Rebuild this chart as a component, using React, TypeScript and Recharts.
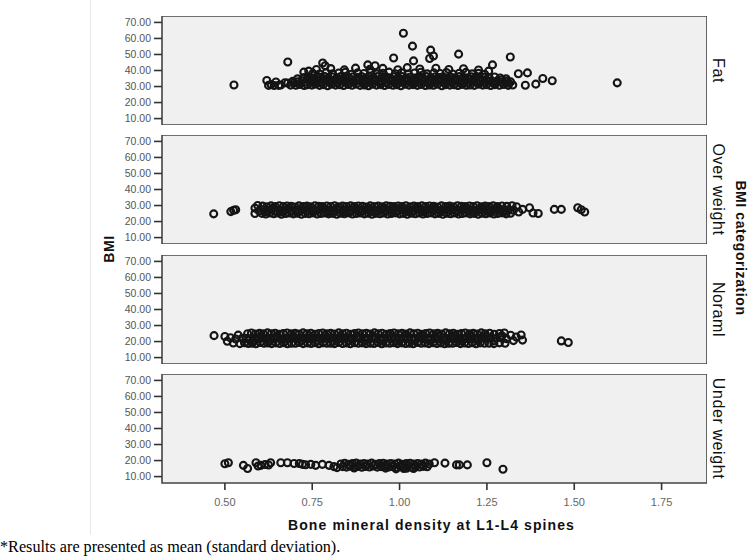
import { ScatterChart, Scatter, XAxis, YAxis, ReferenceArea } from "recharts";

type Pt = [number, number];

const xTicks = [0.5, 0.75, 1.0, 1.25, 1.5, 1.75];
const yTicks = [10, 20, 30, 40, 50, 60, 70];
const categories = ["Fat", "Over weight", "Noraml", "Under weight"];

// BMI >= 30
const fatPoints: Pt[] = [
  [0.526, 31], [0.62, 33.8], [0.625, 30.7], [0.632, 31.2], [0.641, 30.6], [0.646, 32.8], [0.654, 30.7],
  [0.66, 31.0], [0.672, 32.4], [0.68, 32.2], [0.688, 30.9], [0.694, 33.2], [0.697, 32.2], [0.708, 34.8],
  [0.726, 39.0], [0.74, 39.6], [0.68, 45.3], [0.78, 44.7], [0.787, 43.0], [0.909, 43.5], [0.93, 43.0],
  [0.983, 47.8], [1.011, 63.2], [1.037, 55.2], [1.04, 46.0], [1.086, 47.5], [1.089, 52.7], [1.097, 49.0],
  [1.169, 50.2], [1.266, 43.5], [1.317, 48.4], [1.34, 38.0], [1.366, 38.5], [1.36, 30.8], [1.39, 31.5],
  [1.41, 35.0], [1.437, 33.6], [1.623, 32.3],
  [0.703, 30.8], [0.714, 31.3], [0.727, 30.6], [0.736, 31.1], [0.749, 30.9], [0.758, 31.5], [0.771, 30.7],
  [0.782, 31.2], [0.794, 30.5], [0.805, 31.4], [0.817, 30.9], [0.829, 31.1], [0.84, 30.6], [0.853, 31.3],
  [0.864, 30.8], [0.876, 31.5], [0.887, 30.7], [0.899, 31.0], [0.911, 30.5], [0.922, 31.4], [0.934, 30.9],
  [0.946, 31.2], [0.957, 30.6], [0.969, 31.3], [0.981, 30.8], [0.992, 31.1], [1.004, 30.5], [1.016, 31.4],
  [1.027, 30.9], [1.039, 31.2], [1.051, 30.7], [1.062, 31.3], [1.074, 30.6], [1.086, 31.0], [1.097, 30.8],
  [1.109, 31.4], [1.121, 30.5], [1.132, 31.2], [1.144, 30.9], [1.156, 31.1], [1.167, 30.6], [1.179, 31.3],
  [1.191, 30.8], [1.202, 31.0], [1.214, 30.7], [1.226, 31.4], [1.238, 30.9], [1.249, 31.1], [1.261, 30.6],
  [1.273, 31.2], [1.286, 30.8], [1.298, 31.3], [1.311, 30.7], [1.324, 31.0],
  [0.708, 33.0], [0.72, 33.6], [0.731, 32.8], [0.743, 33.4], [0.754, 33.1], [0.766, 33.8], [0.777, 32.9],
  [0.789, 33.5], [0.8, 33.2], [0.812, 33.7], [0.823, 32.8], [0.835, 33.4], [0.847, 33.0], [0.858, 33.6],
  [0.87, 33.2], [0.881, 33.9], [0.893, 32.9], [0.905, 33.5], [0.916, 33.1], [0.928, 33.7], [0.94, 33.0],
  [0.951, 33.4], [0.963, 32.8], [0.975, 33.6], [0.986, 33.2], [0.998, 33.8], [1.01, 32.9], [1.021, 33.5],
  [1.033, 33.1], [1.045, 33.7], [1.056, 33.0], [1.068, 33.4], [1.08, 32.8], [1.091, 33.6], [1.103, 33.2],
  [1.115, 33.5], [1.126, 32.9], [1.138, 33.7], [1.15, 33.1], [1.161, 33.4], [1.173, 33.0], [1.185, 33.6],
  [1.196, 32.8], [1.208, 33.3], [1.22, 33.1], [1.232, 33.5], [1.243, 32.9], [1.255, 33.4], [1.268, 33.0],
  [1.28, 33.6], [1.293, 32.8], [1.306, 33.3], [1.318, 32.9],
  [0.727, 35.6], [0.739, 36.1], [0.751, 35.3], [0.763, 36.0], [0.774, 35.7], [0.786, 36.3], [0.797, 35.4],
  [0.809, 35.9], [0.821, 35.5], [0.832, 36.2], [0.844, 35.8], [0.856, 35.3], [0.867, 36.1], [0.879, 35.6],
  [0.891, 36.3], [0.902, 35.4], [0.914, 35.9], [0.926, 35.5], [0.937, 36.2], [0.949, 35.7], [0.961, 36.0],
  [0.972, 35.4], [0.984, 36.1], [0.996, 35.6], [1.007, 36.3], [1.019, 35.5], [1.031, 35.9], [1.042, 35.3],
  [1.054, 36.0], [1.066, 35.7], [1.077, 36.2], [1.089, 35.4], [1.101, 35.9], [1.112, 35.6], [1.124, 36.1],
  [1.136, 35.3], [1.147, 35.8], [1.159, 35.5], [1.171, 36.2], [1.182, 35.7], [1.194, 35.4], [1.206, 36.0],
  [1.218, 35.6], [1.23, 35.2], [1.243, 35.8], [1.257, 35.4], [1.272, 35.9], [1.288, 35.3], [1.305, 34.8],
  [0.752, 38.2], [0.771, 37.8], [0.79, 38.6], [0.808, 37.9], [0.826, 38.4], [0.845, 38.9], [0.863, 37.7],
  [0.88, 38.5], [0.898, 38.1], [0.917, 38.8], [0.935, 37.9], [0.953, 38.3], [0.97, 39.0], [0.988, 38.0],
  [1.006, 38.6], [1.025, 37.8], [1.043, 38.4], [1.061, 38.9], [1.079, 37.9], [1.098, 38.5], [1.116, 38.1],
  [1.134, 38.7], [1.152, 37.8], [1.171, 38.3], [1.19, 38.8], [1.208, 37.9], [1.226, 38.2], [1.244, 37.6],
  [0.762, 40.6], [0.803, 41.2], [0.842, 40.4], [0.874, 41.5], [0.915, 40.8], [0.952, 41.3], [0.995, 40.5],
  [1.022, 41.8], [1.058, 40.9], [1.104, 41.4], [1.141, 40.6], [1.183, 41.1], [1.226, 40.3], [1.255, 39.6],
  [0.718, 32.1], [0.741, 34.5], [0.764, 32.0], [0.787, 34.6], [0.81, 32.2], [0.833, 34.4], [0.856, 32.1],
  [0.879, 34.5], [0.902, 32.0], [0.925, 34.6], [0.948, 32.2], [0.971, 34.4], [0.994, 32.1], [1.017, 34.5],
  [1.04, 32.0], [1.063, 34.6], [1.086, 32.2], [1.109, 34.4], [1.132, 32.1], [1.155, 34.5], [1.178, 32.0],
  [1.201, 34.6], [1.224, 32.2], [1.247, 34.4], [1.27, 32.1], [1.293, 34.2], [1.312, 32.0],
];

// 25 <= BMI < 30
const overPoints: Pt[] = [
  [0.468, 24.8], [0.517, 26.2], [0.525, 27.0], [0.531, 27.4], [0.586, 28.4], [0.586, 25.0], [0.594, 30.0],
  [0.598, 26.6], [1.335, 29.2], [1.341, 26.0], [1.352, 27.6], [1.372, 28.6], [1.382, 25.3], [1.397, 25.0],
  [1.443, 27.6], [1.463, 27.6], [1.51, 28.6], [1.52, 27.4], [1.53, 26.0],
  [0.606, 25.1], [0.617, 24.7], [0.629, 25.3], [0.64, 24.9], [0.651, 25.4], [0.662, 24.6], [0.674, 25.0],
  [0.685, 25.3], [0.696, 24.8], [0.707, 25.2], [0.719, 24.6], [0.73, 25.1], [0.741, 24.9], [0.752, 25.4],
  [0.764, 24.7], [0.775, 25.0], [0.786, 25.3], [0.797, 24.8], [0.809, 25.1], [0.82, 24.6], [0.831, 25.2],
  [0.842, 24.9], [0.854, 25.4], [0.865, 24.7], [0.876, 25.0], [0.887, 25.3], [0.899, 24.8], [0.91, 25.2],
  [0.921, 24.6], [0.932, 25.1], [0.944, 24.9], [0.955, 25.3], [0.966, 24.7], [0.977, 25.0], [0.989, 25.4],
  [1.0, 24.8], [1.011, 25.1], [1.022, 24.6], [1.034, 25.2], [1.045, 24.9], [1.056, 25.3], [1.067, 24.7],
  [1.079, 25.0], [1.09, 25.4], [1.101, 24.8], [1.112, 25.1], [1.124, 24.6], [1.135, 25.2], [1.146, 24.9],
  [1.157, 25.3], [1.169, 24.7], [1.18, 25.0], [1.191, 25.4], [1.202, 24.8], [1.214, 25.1], [1.225, 24.6],
  [1.236, 25.2], [1.247, 24.9], [1.259, 25.3], [1.27, 24.7], [1.281, 25.0], [1.293, 25.4], [1.305, 24.8],
  [1.318, 25.2],
  [0.611, 27.4], [0.623, 26.9], [0.634, 27.5], [0.645, 27.0], [0.657, 27.3], [0.668, 26.8], [0.679, 27.6],
  [0.69, 27.1], [0.702, 27.4], [0.713, 26.9], [0.724, 27.3], [0.735, 27.0], [0.747, 27.5], [0.758, 26.8],
  [0.769, 27.2], [0.78, 27.6], [0.792, 27.0], [0.803, 27.4], [0.814, 26.9], [0.825, 27.3], [0.837, 27.1],
  [0.848, 27.5], [0.859, 26.8], [0.87, 27.2], [0.882, 27.6], [0.893, 27.0], [0.904, 27.4], [0.915, 26.9],
  [0.927, 27.3], [0.938, 27.1], [0.949, 27.5], [0.96, 26.8], [0.972, 27.2], [0.983, 27.6], [0.994, 27.0],
  [1.005, 27.4], [1.017, 26.9], [1.028, 27.3], [1.039, 27.1], [1.05, 27.5], [1.062, 26.8], [1.073, 27.2],
  [1.084, 27.6], [1.095, 27.0], [1.107, 27.4], [1.118, 26.9], [1.129, 27.3], [1.14, 27.1], [1.152, 27.5],
  [1.163, 26.8], [1.174, 27.2], [1.185, 27.6], [1.197, 27.0], [1.208, 27.4], [1.219, 26.9], [1.23, 27.3],
  [1.242, 27.1], [1.253, 27.5], [1.264, 26.8], [1.276, 27.2], [1.288, 27.6], [1.3, 27.0], [1.312, 27.4],
  [1.326, 27.1],
  [0.608, 29.6], [0.62, 29.2], [0.632, 29.8], [0.644, 29.4], [0.656, 29.9], [0.667, 29.3], [0.678, 29.7],
  [0.69, 29.5], [0.701, 29.1], [0.712, 29.8], [0.724, 29.4], [0.735, 29.6], [0.746, 29.2], [0.758, 29.9],
  [0.769, 29.5], [0.78, 29.3], [0.792, 29.7], [0.803, 29.4], [0.814, 29.9], [0.826, 29.2], [0.837, 29.6],
  [0.848, 29.4], [0.86, 29.8], [0.871, 29.3], [0.882, 29.7], [0.894, 29.5], [0.905, 29.1], [0.916, 29.8],
  [0.928, 29.4], [0.939, 29.6], [0.95, 29.2], [0.962, 29.9], [0.973, 29.5], [0.984, 29.3], [0.996, 29.7],
  [1.007, 29.4], [1.018, 29.9], [1.03, 29.2], [1.041, 29.6], [1.052, 29.4], [1.064, 29.8], [1.075, 29.3],
  [1.086, 29.7], [1.098, 29.5], [1.109, 29.1], [1.12, 29.8], [1.132, 29.4], [1.143, 29.6], [1.154, 29.2],
  [1.166, 29.9], [1.177, 29.5], [1.188, 29.3], [1.2, 29.7], [1.211, 29.4], [1.222, 29.9], [1.234, 29.2],
  [1.245, 29.6], [1.256, 29.4], [1.268, 29.8], [1.28, 29.3], [1.293, 29.7], [1.307, 29.5], [1.322, 29.9],
  [0.615, 26.1], [0.638, 28.4], [0.661, 26.0], [0.684, 28.3], [0.707, 26.2], [0.73, 28.5], [0.752, 26.1],
  [0.775, 28.3], [0.798, 26.0], [0.821, 28.4], [0.844, 26.2], [0.867, 28.5], [0.889, 26.1], [0.912, 28.3],
  [0.935, 26.0], [0.958, 28.4], [0.981, 26.2], [1.003, 28.5], [1.026, 26.1], [1.049, 28.3], [1.072, 26.0],
  [1.095, 28.4], [1.118, 26.2], [1.14, 28.5], [1.163, 26.1], [1.186, 28.3], [1.209, 26.0], [1.232, 28.4],
  [1.255, 26.2], [1.277, 28.5], [1.3, 26.1],
];

// 18.5 <= BMI < 25
const normalPoints: Pt[] = [
  [0.469, 23.7], [0.5, 23.2], [0.507, 20.2], [0.516, 22.4], [0.524, 19.1], [0.531, 21.6], [0.538, 24.0],
  [0.543, 18.7], [0.549, 22.0], [1.318, 23.9], [1.326, 20.6], [1.334, 22.8], [1.348, 24.1], [1.352, 20.9],
  [1.463, 20.4], [1.483, 19.4],
  [0.556, 19.3], [0.567, 18.8], [0.578, 19.0], [0.589, 18.6], [0.601, 19.4], [0.612, 18.9], [0.623, 19.1],
  [0.634, 18.7], [0.646, 19.2], [0.657, 18.8], [0.668, 19.3], [0.679, 18.6], [0.691, 19.0], [0.702, 18.9],
  [0.713, 19.4], [0.724, 18.7], [0.736, 19.1], [0.747, 18.8], [0.758, 19.3], [0.769, 18.6], [0.781, 19.2],
  [0.792, 18.9], [0.803, 19.0], [0.814, 18.7], [0.826, 19.4], [0.837, 18.8], [0.848, 19.1], [0.859, 18.6],
  [0.871, 19.3], [0.882, 18.9], [0.893, 19.2], [0.904, 18.7], [0.916, 19.0], [0.927, 18.8], [0.938, 19.4],
  [0.949, 18.6], [0.961, 19.1], [0.972, 18.9], [0.983, 19.3], [0.994, 18.7], [1.006, 19.2], [1.017, 18.8],
  [1.028, 19.0], [1.039, 18.6], [1.051, 19.4], [1.062, 18.9], [1.073, 19.1], [1.084, 18.7], [1.096, 19.3],
  [1.107, 18.8], [1.118, 19.2], [1.129, 18.6], [1.141, 19.0], [1.152, 18.9], [1.163, 19.4], [1.174, 18.7],
  [1.186, 19.1], [1.197, 18.8], [1.208, 19.3], [1.219, 18.6], [1.231, 19.2], [1.243, 18.9], [1.256, 19.0],
  [1.27, 18.7], [1.286, 19.2], [1.302, 18.9],
  [0.561, 22.0], [0.572, 21.6], [0.584, 22.2], [0.595, 21.8], [0.606, 22.3], [0.617, 21.7], [0.629, 22.1],
  [0.64, 21.9], [0.651, 22.4], [0.662, 21.6], [0.674, 22.0], [0.685, 21.8], [0.696, 22.3], [0.707, 21.7],
  [0.719, 22.2], [0.73, 21.9], [0.741, 22.0], [0.752, 21.6], [0.764, 22.4], [0.775, 21.8], [0.786, 22.1],
  [0.797, 21.7], [0.809, 22.3], [0.82, 21.9], [0.831, 22.0], [0.842, 21.6], [0.854, 22.2], [0.865, 21.8],
  [0.876, 22.4], [0.887, 21.7], [0.899, 22.1], [0.91, 21.9], [0.921, 22.3], [0.932, 21.6], [0.944, 22.0],
  [0.955, 21.8], [0.966, 22.2], [0.977, 21.7], [0.989, 22.4], [1.0, 21.9], [1.011, 22.1], [1.022, 21.6],
  [1.034, 22.0], [1.045, 21.8], [1.056, 22.3], [1.067, 21.7], [1.079, 22.2], [1.09, 21.9], [1.101, 22.0],
  [1.112, 21.6], [1.124, 22.4], [1.135, 21.8], [1.146, 22.1], [1.157, 21.7], [1.169, 22.3], [1.18, 21.9],
  [1.191, 22.0], [1.202, 21.6], [1.214, 22.2], [1.225, 21.8], [1.236, 22.4], [1.248, 21.7], [1.261, 22.1],
  [1.275, 21.9], [1.29, 22.3], [1.306, 21.8],
  [0.565, 24.9], [0.576, 25.3], [0.588, 24.7], [0.599, 25.1], [0.61, 24.8], [0.622, 25.4], [0.633, 24.9],
  [0.644, 25.2], [0.656, 24.6], [0.667, 25.0], [0.678, 25.3], [0.69, 24.8], [0.701, 25.1], [0.712, 24.7],
  [0.724, 25.4], [0.735, 24.9], [0.746, 25.2], [0.758, 24.6], [0.769, 25.0], [0.78, 25.3], [0.792, 24.8],
  [0.803, 25.1], [0.814, 24.7], [0.826, 25.4], [0.837, 24.9], [0.848, 25.2], [0.86, 24.6], [0.871, 25.0],
  [0.882, 25.3], [0.894, 24.8], [0.905, 25.1], [0.916, 24.7], [0.928, 25.4], [0.939, 24.9], [0.95, 25.2],
  [0.962, 24.6], [0.973, 25.0], [0.984, 25.3], [0.996, 24.8], [1.007, 25.1], [1.018, 24.7], [1.03, 25.4],
  [1.041, 24.9], [1.052, 25.2], [1.064, 24.6], [1.075, 25.0], [1.086, 25.3], [1.098, 24.8], [1.109, 25.1],
  [1.12, 24.7], [1.132, 25.4], [1.143, 24.9], [1.154, 25.2], [1.166, 24.6], [1.177, 25.0], [1.188, 25.3],
  [1.2, 24.8], [1.211, 25.1], [1.222, 24.7], [1.234, 25.4], [1.245, 24.9], [1.258, 25.2], [1.271, 24.6],
  [1.286, 25.0], [1.3, 25.3],
  [0.58, 20.4], [0.603, 23.5], [0.626, 20.5], [0.649, 23.6], [0.672, 20.3], [0.695, 23.4], [0.718, 20.6],
  [0.741, 23.5], [0.764, 20.4], [0.787, 23.6], [0.81, 20.3], [0.833, 23.4], [0.856, 20.5], [0.879, 23.5],
  [0.902, 20.6], [0.925, 23.4], [0.948, 20.4], [0.971, 23.6], [0.994, 20.3], [1.017, 23.5], [1.04, 20.5],
  [1.063, 23.4], [1.086, 20.6], [1.109, 23.5], [1.132, 20.4], [1.155, 23.6], [1.178, 20.3], [1.201, 23.4],
  [1.224, 20.5], [1.247, 23.5], [1.27, 20.4], [1.293, 23.6],
];

// BMI < 18.5
const underPoints: Pt[] = [
  [0.5, 18.0], [0.51, 18.6], [0.553, 17.0], [0.565, 15.0], [0.589, 18.6], [0.595, 16.6], [0.603, 17.0],
  [0.615, 17.5], [0.625, 17.2], [0.631, 18.6], [0.66, 18.6], [0.679, 18.6], [0.698, 18.2], [0.713, 18.2],
  [0.722, 17.6], [0.731, 17.4], [0.746, 17.6], [0.76, 17.0], [0.779, 17.6], [0.798, 17.0], [0.812, 16.2],
  [0.821, 15.6], [1.1, 18.6], [1.13, 18.4], [1.163, 17.3], [1.171, 17.3], [1.194, 17.3], [1.25, 18.6],
  [1.296, 14.6], [0.99, 14.8], [1.012, 15.0], [1.02, 15.2], [1.04, 15.1], [0.87, 15.4], [0.96, 15.3],
  [0.832, 17.9], [0.843, 18.3], [0.854, 17.7], [0.865, 18.1], [0.876, 18.4], [0.887, 17.8], [0.898, 18.2],
  [0.909, 17.9], [0.92, 18.4], [0.931, 17.7], [0.942, 18.1], [0.953, 18.3], [0.964, 17.8], [0.975, 18.2],
  [0.986, 17.9], [0.997, 18.4], [1.008, 17.7], [1.019, 18.1], [1.03, 18.3], [1.041, 17.8], [1.052, 18.2],
  [1.063, 17.9], [1.074, 18.4], [1.085, 17.8],
  [0.837, 16.2], [0.848, 15.9], [0.859, 16.5], [0.87, 16.1], [0.881, 16.4], [0.892, 15.8], [0.903, 16.3],
  [0.914, 16.0], [0.925, 16.6], [0.936, 15.9], [0.947, 16.2], [0.958, 16.5], [0.969, 16.0], [0.98, 16.3],
  [0.991, 15.8], [1.002, 16.4], [1.013, 16.1], [1.024, 16.5], [1.035, 15.9], [1.046, 16.3], [1.057, 16.0],
  [1.068, 16.4], [1.079, 16.1],
];

const panelPoints = [fatPoints, overPoints, normalPoints, underPoints];
const panelTops = [16, 135, 255, 374];

const X_DOMAIN: [number, number] = [0.32, 1.88];
const Y_DOMAIN: [number, number] = [6, 74];
const PANEL_H = 109;
const AXIS_W = 62;
const PLOT_W = 545;
const CHART_LEFT = 100;
const SANS = "'Liberation Sans', Arial, sans-serif";

const Ring = (p: any) => (
  <circle cx={p.cx} cy={p.cy} r={3.5} fill="none" stroke="#141414" strokeWidth={2.1} />
);

const yTickStyle = { fill: "#555", fontSize: 10.5, fontFamily: SANS };
const xTickStyle = { fill: "#666", fontSize: 11, fontFamily: SANS };

function Panel({ points, top, last }: { points: Pt[]; top: number; last: boolean }) {
  const data = points.map(([x, y]) => ({ x, y }));
  return (
    <div style={{ position: "absolute", left: CHART_LEFT, top }}>
      <ScatterChart
        width={AXIS_W + PLOT_W}
        height={PANEL_H + (last ? 32 : 0)}
        margin={{ top: 0, right: 0, bottom: 0, left: 0 }}
      >
        <XAxis
          type="number"
          dataKey="x"
          domain={X_DOMAIN}
          ticks={xTicks}
          interval={0}
          hide={!last}
          height={32}
          axisLine={false}
          tickLine={{ stroke: "#333", strokeWidth: 1.6 }}
          tickSize={7}
          tickMargin={8}
          tick={xTickStyle}
          tickFormatter={(v: number) => v.toFixed(2)}
          allowDataOverflow
        />
        <YAxis
          type="number"
          dataKey="y"
          domain={Y_DOMAIN}
          ticks={yTicks}
          interval={0}
          width={AXIS_W}
          axisLine={false}
          tickLine={{ stroke: "#333", strokeWidth: 1.6 }}
          tickSize={8}
          tickMargin={3}
          tick={yTickStyle}
          tickFormatter={(v: number) => v.toFixed(2)}
          allowDataOverflow
        />
        <ReferenceArea
          x1={X_DOMAIN[0]}
          x2={X_DOMAIN[1]}
          y1={Y_DOMAIN[0]}
          y2={Y_DOMAIN[1]}
          fill="#f0f0f0"
          fillOpacity={1}
          stroke="#444"
          strokeWidth={1.6}
        />
        <Scatter data={data} shape={Ring} isAnimationActive={false} />
      </ScatterChart>
    </div>
  );
}

export default function App() {
  const plotLeft = CHART_LEFT + AXIS_W;
  const plotRight = plotLeft + PLOT_W;
  return (
    <div
      style={{
        position: "absolute",
        left: 0,
        top: 0,
        width: 750,
        height: 557,
        background: "#fff",
        overflow: "hidden",
      }}
    >
      <div style={{ position: "absolute", left: 90, top: 0, width: 1, height: 535, background: "#e6e6e6" }} />
      {panelPoints.map((pts, i) => (
        <Panel key={categories[i]} points={pts} top={panelTops[i]} last={i === panelPoints.length - 1} />
      ))}
      <svg width={750} height={557} style={{ position: "absolute", left: 0, top: 0, pointerEvents: "none" }}>
        <text
          x={0}
          y={0}
          transform="translate(109,249) rotate(-90)"
          textAnchor="middle"
          dominantBaseline="central"
          fontFamily={SANS}
          fontWeight="bold"
          fontSize={14}
          letterSpacing={0.6}
          fill="#111"
        >
          BMI
        </text>
        {categories.map((c, i) => (
          <text
            key={c}
            x={0}
            y={0}
            transform={`translate(${plotRight + 11},${panelTops[i] + PANEL_H / 2}) rotate(90)`}
            textAnchor="middle"
            dominantBaseline="central"
            fontFamily={SANS}
            fontSize={16}
            letterSpacing={0.6}
            fill="#111"
          >
            {c}
          </text>
        ))}
        <text
          x={0}
          y={0}
          transform="translate(741,248) rotate(90)"
          textAnchor="middle"
          dominantBaseline="central"
          fontFamily={SANS}
          fontWeight="bold"
          fontSize={14}
          letterSpacing={0.6}
          fill="#111"
        >
          BMI categorization
        </text>
        <text
          x={(plotLeft + plotRight) / 2 - 3}
          y={525}
          textAnchor="middle"
          dominantBaseline="central"
          fontFamily={SANS}
          fontWeight="bold"
          fontSize={14}
          letterSpacing={1.1}
          fill="#111"
        >
          Bone mineral density at L1-L4 spines
        </text>
        <text x={0} y={552} fontFamily="'Liberation Serif', 'Times New Roman', serif" fontSize={16.2} fill="#000">
          *Results are presented as mean (standard deviation).
        </text>
      </svg>
    </div>
  );
}
